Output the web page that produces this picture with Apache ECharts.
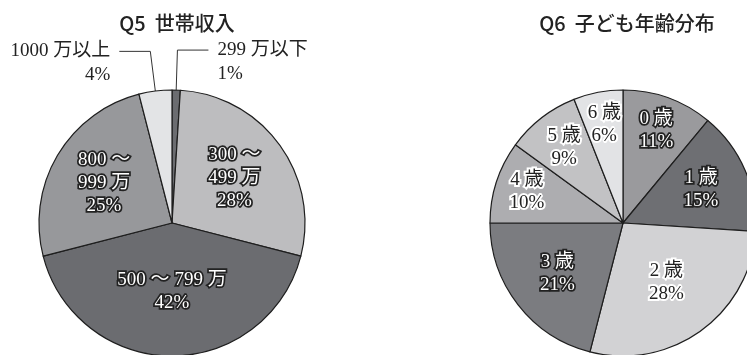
<!DOCTYPE html>
<html>
<head>
<meta charset="utf-8">
<script src="https://cdn.jsdelivr.net/npm/echarts@6/dist/echarts.min.js"></script>
<style>
  html, body { margin: 0; padding: 0; background: #fff; }
  #chart { width: 747px; height: 355px; }
</style>
</head>
<body>
<div id="chart"></div>
<script>
// Q5: household income shares (%)
const incomeCategories = ['299 万以下', '300 ～\n499 万', '500 ～ 799 万', '800 ～\n999 万', '1000 万以上'];
const incomeValues = [1, 28, 42, 25, 4];

// Q6: child age shares (%)
const ageCategories = ['0 歳', '1 歳', '2 歳', '3 歳', '4 歳', '5 歳', '6 歳'];
const ageValues = [11, 15, 28, 21, 10, 9, 6];

// styling per slice
const incomeColors = ['#6b6c70', '#bdbdbf', '#6b6c70', '#97989b', '#e3e4e6'];
const incomeLabelKind = ['outside', 'light', 'light', 'light', 'outside'];
const incomeLabelRadius = [0, 77, 69, 79, 0];

const ageColors = ['#9a9a9d', '#6e6f73', '#d2d2d4', '#7b7c80', '#adadb0', '#c2c2c4', '#e2e3e5'];
const ageLabelKind = ['light', 'light', 'dark', 'light', 'dark', 'dark', 'dark'];
const ageLabelRadius = [98, 85, 74, 83, 101, 96, 100];

const SERIF = '"Liberation Serif", "DejaVu Serif", "Noto Sans CJK JP", serif';
const SANS = '"Noto Sans CJK JP", "Noto Sans", sans-serif';
const R = 133;
const incomeCenter = [172, 223];
const ageCenter = [623, 223];

const whiteText = { color: '#fff', textBorderColor: '#222', textBorderWidth: 3.5 };
const darkText = { color: '#222', textBorderColor: '#fff', textBorderWidth: 4 };

function labelFor(kind) {
  if (kind === 'outside') {
    // a blank first line keeps the name level with the leader line
    return {
      show: true, position: 'outside', color: '#222',
      fontFamily: SERIF, fontSize: 19, lineHeight: 24,
      distanceToLabelLine: 9,
      formatter: p => ' \n' + p.name + '\n' + p.value + '%'
    };
  }
  return Object.assign({ show: true, position: 'inside', fontFamily: SERIF, fontSize: 19, lineHeight: 23 },
    kind === 'light' ? whiteText : darkText);
}

function buildData(names, values, colors, kinds) {
  return names.map((n, i) => ({
    name: n, value: values[i],
    itemStyle: { color: colors[i] },
    label: labelFor(kinds[i]),
    labelLine: { show: kinds[i] === 'outside' }
  }));
}

// push inside labels out to a chosen distance from the pie centre
function radialLayout(center, radii) {
  return function (p) {
    const rd = radii[p.dataIndex];
    if (!rd) return {};
    const lr = p.labelRect;
    const lx = lr.x + lr.width / 2, ly = lr.y + lr.height / 2;
    const vx = lx - center[0], vy = ly - center[1];
    const d = Math.sqrt(vx * vx + vy * vy) || 1;
    return { dx: vx / d * rd - vx, dy: vy / d * rd - vy };
  };
}

const pieBase = {
  type: 'pie', radius: [0, R], startAngle: 90, clockwise: true,
  avoidLabelOverlap: false, silent: true, animation: false,
  itemStyle: { borderColor: '#1e1e1e', borderWidth: 1.2 },
  labelLine: { length: 40, length2: 31, smooth: false, lineStyle: { color: '#333', width: 1 } },
  emphasis: { disabled: true }
};

const chart = echarts.init(document.getElementById('chart'));
chart.setOption({
  backgroundColor: '#fff',
  title: [
    { text: 'Q5  世帯収入', left: 172, top: 8, textAlign: 'center',
      textStyle: { fontFamily: SANS, fontSize: 20, fontWeight: 500, color: '#222' } },
    { text: 'Q6  子ども年齢分布', left: 622, top: 8, textAlign: 'center',
      textStyle: { fontFamily: SANS, fontSize: 20, fontWeight: 500, color: '#222' } }
  ],
  series: [
    Object.assign({}, pieBase, {
      center: incomeCenter,
      data: buildData(incomeCategories, incomeValues, incomeColors, incomeLabelKind),
      label: { formatter: p => p.name + '\n' + p.value + '%' },
      labelLayout: radialLayout(incomeCenter, incomeLabelRadius)
    }),
    Object.assign({}, pieBase, {
      center: ageCenter,
      data: buildData(ageCategories, ageValues, ageColors, ageLabelKind),
      label: { formatter: p => p.name + '\n' + p.value + '%' },
      labelLayout: radialLayout(ageCenter, ageLabelRadius)
    })
  ]
});
</script>
</body>
</html>
